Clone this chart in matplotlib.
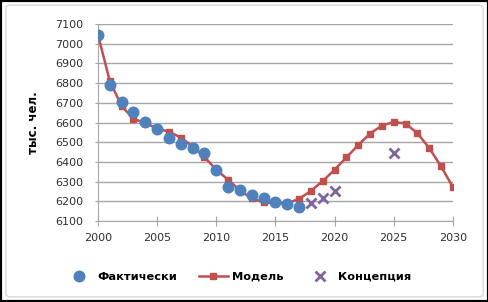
import matplotlib.pyplot as plt
from matplotlib.patches import Rectangle, FancyBboxPatch
from matplotlib.lines import Line2D

# фактические данные
fact_years = list(range(2000, 2018))
fact_vals = [7045, 6788, 6705, 6654, 6605, 6565, 6524, 6493, 6473, 6447,
             6358, 6272, 6256, 6234, 6217, 6199, 6186, 6171]

# модель
model_years = list(range(2000, 2031))
model_vals = [7045, 6810, 6683, 6619, 6597, 6570, 6553, 6524, 6478, 6425,
              6360, 6310, 6255, 6215, 6195, 6190, 6190, 6213, 6253, 6303,
              6360, 6423, 6485, 6544, 6584, 6603, 6595, 6546, 6471, 6378,
              6273]

# концепция
conc_years = [2018, 2019, 2020, 2025]
conc_vals = [6193, 6219, 6253, 6443]

blue = '#4F81BD'
red = '#C0504D'
purple = '#8064A2'
grid_c = '#A6A6A6'

fig = plt.figure(figsize=(4.89, 3.02), dpi=100)
ax = fig.add_axes([0.2004, 0.268, 0.7256, 0.6525])

ax.plot(model_years, model_vals, color=red, lw=1.8, marker='s', ms=4.3,
        zorder=3)
ax.plot(fact_years, fact_vals, ls='none', marker='o', ms=7.6, color=blue,
        zorder=4)
ax.plot(conc_years, conc_vals, ls='none', marker='x', ms=7, mew=2,
        color=purple, zorder=5)

ax.set_xlim(2000, 2030)
ax.set_ylim(6100, 7100)
ax.set_xticks(range(2000, 2031, 5))
ax.set_yticks(range(6100, 7101, 100))
ax.yaxis.grid(True, color=grid_c, lw=1)
ax.set_axisbelow(True)
for s in ['top', 'right']:
    ax.spines[s].set_visible(False)
for s in ['left', 'bottom']:
    ax.spines[s].set_color(grid_c)
ax.tick_params(axis='y', direction='out', length=2.5, color=grid_c,
               labelsize=8, labelcolor='#303030', pad=8)
ax.tick_params(axis='x', direction='inout', length=7, color=grid_c,
               labelsize=8, labelcolor='#303030', pad=5)
ax.set_ylabel('тыс. чел.', fontsize=8.5, fontweight='bold', labelpad=11)

handles = [
    Line2D([], [], ls='none', marker='o', ms=7.6, color=blue),
    Line2D([], [], color=red, lw=1.8, marker='s', ms=4.3),
    Line2D([], [], ls='none', marker='x', ms=7, mew=2, color=purple),
]
fig.legend(handles, ['Фактически', 'Модель', 'Концепция'], loc='center',
           bbox_to_anchor=(0.487, 0.083), ncol=3, frameon=False,
           prop={'size': 8.2, 'weight': 'bold'}, handlelength=2.5,
           columnspacing=1.9, handletextpad=0.4)

# рамки
fig.patches.append(FancyBboxPatch((0.012, 0.017), 0.976, 0.966,
                                  boxstyle='round,pad=0,rounding_size=0.01',
                                  transform=fig.transFigure, fill=False,
                                  ec='#D9D9D9', lw=1))
fig.patches.append(Rectangle((0, 0), 1, 1, transform=fig.transFigure,
                             fill=False, ec='black', lw=3))

fig.savefig('out.png', dpi=100)
